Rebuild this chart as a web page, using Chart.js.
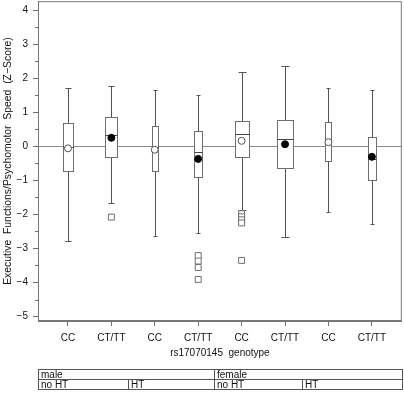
<!DOCTYPE html>
<html>
<head>
<meta charset="utf-8">
<script src="https://cdn.jsdelivr.net/npm/chart.js@4.4.1/dist/chart.umd.min.js"></script>
<style>
  body { margin: 0; background: #fff; }
  #wrap { position: relative; width: 404px; height: 400px; overflow: hidden; }
  #boxChart { position: absolute; left: 0; top: -4px; }
  #groups {
    position: absolute; left: 38px; top: 369px; width: 364px;
    border-collapse: collapse; table-layout: fixed;
    font: 10px "Liberation Sans", Arial, sans-serif; color: #111;
  }
  #groups td { border: 1px solid #555; padding: 0 2px; height: 9px; line-height: 9px; white-space: nowrap; }
</style>
</head>
<body>
<div id="wrap">
  <canvas id="boxChart" width="407" height="404"></canvas>
  <table id="groups"></table>
</div>
<script>
// Box plot data per group
const categories = ['CC', 'CT/TT', 'CC', 'CT/TT', 'CC', 'CT/TT', 'CC', 'CT/TT'];
const whiskerHigh = [1.72, 1.76, 1.66, 1.52, 2.19, 2.37, 1.72, 1.64];
const q3 = [0.67, 0.86, 0.60, 0.45, 0.75, 0.77, 0.70, 0.27];
const medians = [-0.03, 0.33, -0.03, -0.17, 0.36, 0.20, 0.14, -0.38];
const q1 = [-0.72, -0.30, -0.74, -0.90, -0.32, -0.64, -0.42, -0.98];
const whiskerLow = [-2.77, -1.67, -2.63, -2.56, -1.88, -2.66, -1.92, -2.27];
const means = [-0.06, 0.25, -0.10, -0.37, 0.16, 0.06, 0.12, -0.31];
// relative box width (sample size), as fraction of group spacing
const boxWidths = [0.23, 0.28, 0.14, 0.18, 0.30, 0.39, 0.14, 0.18];
const outliers = [[], [-2.08], [], [-3.21, -3.37, -3.56, -3.91], [-1.98, -2.07, -2.16, -2.25, -3.35], [], [], []];
const yTicks = [-5, -4, -3, -2, -1, 0, 1, 2, 3, 4];
const sexes = ['male', 'female'];
const therapy = ['no HT', 'HT'];

// group table under the x axis
const table = document.getElementById('groups');
table.innerHTML =
  '<colgroup><col style="width:90px"><col style="width:86px"><col style="width:88px"><col style="width:100px"></colgroup>' +
  '<tr>' + sexes.map(s => '<td colspan="2">' + s + '</td>').join('') + '</tr>' +
  '<tr>' + sexes.map(() => therapy.map(t => '<td>' + t + '</td>').join('')).join('') + '</tr>';

const meanPoints = means.map((m, i) => ({ x: i + 1, y: m }));
const outlierPoints = [];
outliers.forEach((list, i) => list.forEach(v => outlierPoints.push({ x: i + 1, y: v })));

const grey = '#6e6e6e';

const boxPlugin = {
  id: 'boxes',
  beforeDatasetsDraw(chart) {
    const { ctx, chartArea, scales: { x, y } } = chart;
    ctx.save();
    // zero reference line
    const y0 = Math.round(y.getPixelForValue(0)) + 0.5;
    ctx.strokeStyle = '#8a8a8a';
    ctx.lineWidth = 1;
    ctx.beginPath();
    ctx.moveTo(chartArea.left, y0);
    ctx.lineTo(chartArea.right, y0);
    ctx.stroke();

    categories.forEach((c, i) => {
      const cx = Math.round(x.getPixelForValue(i + 1)) + 0.5;
      const hw = Math.round(x.getPixelForValue(i + 1 + boxWidths[i] / 2) - x.getPixelForValue(i + 1));
      const cap = Math.max(2, Math.round(hw * 0.5));
      const py = v => Math.round(y.getPixelForValue(v)) + 0.5;
      ctx.strokeStyle = '#555';
      ctx.beginPath();
      ctx.moveTo(cx, py(whiskerHigh[i]));
      ctx.lineTo(cx, py(q3[i]));
      ctx.moveTo(cx, py(q1[i]));
      ctx.lineTo(cx, py(whiskerLow[i]));
      ctx.moveTo(cx - cap, py(whiskerHigh[i]));
      ctx.lineTo(cx + cap, py(whiskerHigh[i]));
      ctx.moveTo(cx - cap, py(whiskerLow[i]));
      ctx.lineTo(cx + cap, py(whiskerLow[i]));
      ctx.stroke();
      // box
      ctx.fillStyle = '#fff';
      ctx.strokeStyle = grey;
      const top = py(q3[i]);
      const bot = py(q1[i]);
      ctx.fillRect(cx - hw, top, hw * 2, bot - top);
      ctx.strokeRect(cx - hw, top, hw * 2, bot - top);
      ctx.strokeStyle = '#444';
      ctx.beginPath();
      ctx.moveTo(cx - hw, py(medians[i]));
      ctx.lineTo(cx + hw, py(medians[i]));
      ctx.stroke();
    });

    // minor y ticks at half units
    ctx.strokeStyle = grey;
    ctx.beginPath();
    yTicks.forEach(v => {
      const yy = Math.round(y.getPixelForValue(v + 0.5)) + 0.5;
      if (yy > chartArea.top && yy < chartArea.bottom) {
        ctx.moveTo(chartArea.left - 3, yy);
        ctx.lineTo(chartArea.left, yy);
      }
    });
    ctx.stroke();
    ctx.restore();
  },
  afterDraw(chart) {
    const { ctx, chartArea } = chart;
    ctx.save();
    ctx.strokeStyle = '#777';
    ctx.lineWidth = 1;
    ctx.strokeRect(chartArea.left + 0.5, chartArea.top + 0.5,
      chartArea.right - chartArea.left - 1, chartArea.bottom - chartArea.top - 1);
    ctx.restore();
  }
};

const font = { family: '"Liberation Sans", Arial, sans-serif', size: 10 };

new Chart(document.getElementById('boxChart').getContext('2d'), {
  type: 'scatter',
  data: {
    datasets: [{
      label: 'Mean',
      data: meanPoints,
      pointStyle: 'circle',
      pointRadius: 3.5,
      pointBackgroundColor: categories.map(c => c === 'CC' ? '#fff' : '#000'),
      pointBorderColor: categories.map(c => c === 'CC' ? '#555' : '#000'),
      pointBorderWidth: 1
    }, {
      label: 'Outliers',
      data: outlierPoints,
      pointStyle: 'rect',
      pointRadius: 4.2,
      pointBackgroundColor: '#fff',
      pointBorderColor: grey,
      pointBorderWidth: 1
    }]
  },
  options: {
    responsive: false,
    devicePixelRatio: 1,
    animation: false,
    layout: { padding: { top: 1, right: 2, bottom: 39, left: 0 } },
    plugins: {
      legend: { display: false },
      tooltip: { enabled: false }
    },
    scales: {
      x: {
        type: 'linear',
        min: 0.31,
        max: 8.69,
        afterBuildTicks: scale => { scale.ticks = categories.map((c, i) => ({ value: i + 1 })); },
        afterFit: scale => { scale.height = 40; scale.paddingLeft = 0; scale.paddingRight = 0; },
        ticks: {
          callback: (v) => categories[v - 1] || '',
          color: '#111',
          font: font,
          padding: 6,
          maxRotation: 0,
          autoSkip: false
        },
        grid: { drawOnChartArea: false, tickLength: 5, tickColor: grey },
        border: { color: '#777' },
        title: {
          display: true,
          text: 'rs17070145  genotype',
          color: '#111',
          font: font,
          padding: { top: 0, bottom: 2 }
        }
      },
      y: {
        min: -5.13,
        max: 4.26,
        afterBuildTicks: scale => { scale.ticks = yTicks.map(v => ({ value: v })); },
        afterFit: scale => { scale.width = 38; scale.paddingTop = 0; scale.paddingBottom = 0; },
        ticks: {
          callback: v => (v < 0 ? '\u2212' + Math.abs(v) : String(v)),
          color: '#111',
          font: font,
          padding: 5
        },
        grid: { drawOnChartArea: false, tickLength: 5, tickColor: grey },
        border: { color: '#777' },
        title: {
          display: true,
          text: 'Executive  Functions/Psychomotor  Speed  (Z\u2212Score)',
          color: '#111',
          font: { family: font.family, size: 10.4 },
          padding: { top: 2, bottom: 0 }
        }
      }
    }
  },
  plugins: [boxPlugin]
});
</script>
</body>
</html>
